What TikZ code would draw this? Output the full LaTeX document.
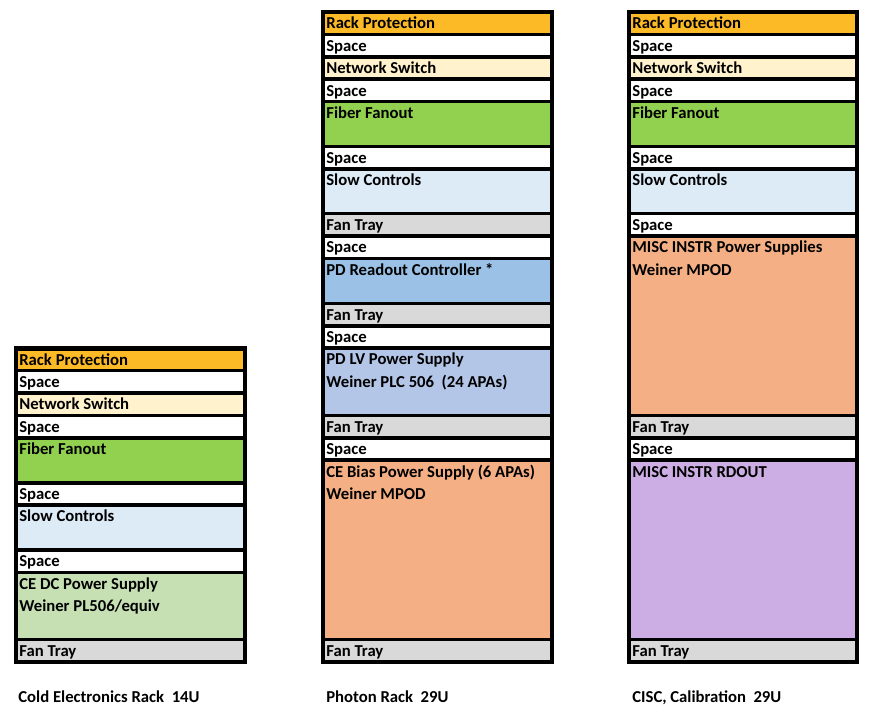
\documentclass[tikz,border=0pt]{standalone}
\usepackage{fontspec}
\setmainfont{Carlito}
\usetikzlibrary{positioning}
\definecolor{rackprot}{HTML}{FDBA27}
\definecolor{netsw}{HTML}{FFF2CC}
\definecolor{fiber}{HTML}{92D050}
\definecolor{slowctl}{HTML}{DDEBF7}
\definecolor{fantray}{HTML}{D9D9D9}
\definecolor{pdrdout}{HTML}{9BC2E6}
\definecolor{pdlv}{HTML}{B4C6E7}
\definecolor{cebias}{HTML}{F4B084}
\definecolor{cedc}{HTML}{C6E0B4}
\definecolor{miscrd}{HTML}{CDAEE4}
\tikzset{unitbox/.style={draw=black, line width=2pt},rackframe/.style={draw=black, line width=2.5pt}}
\tikzset{celllabel/.style={anchor=north west, inner sep=0pt, align=left, font=\bfseries\fontsize{9.5}{12.9}\selectfont}}
\tikzset{racktitle/.style={anchor=base west, inner sep=0pt, font=\bfseries\fontsize{9.5}{11}\selectfont}}
\def\U{22.41}
\begin{document}
\begin{tikzpicture}[x=0.02cm, y=-0.02cm]
  \useasboundingbox (0,0) rectangle (873,711);
  % cold electronics rack
  \begin{scope}[shift={(16,348.3)}]
    \foreach \r/\n/\col/\txt in {0/1/rackprot/Rack Protection, 1/1/white/Space, 2/1/netsw/Network Switch,
      3/1/white/Space, 4/2/fiber/Fiber Fanout, 6/1/white/Space, 7/2/slowctl/Slow Controls, 9/1/white/Space,
      10/3/cedc/{CE DC Power Supply\\Weiner PL506/equiv}, 13/1/fantray/Fan Tray}
    {
      \draw[unitbox, fill=\col] (0,\r*\U) rectangle (229,{(\r+\n)*\U});
      \node[celllabel] (ce-\r) at (3,{\r*\U+0.6}) {\strut\txt};
    }
    \draw[rackframe] (0,0) rectangle (229,14*\U);
  \end{scope}
  % photon rack
  \begin{scope}[shift={(323,12)}]
    \foreach \r/\n/\col/\txt in {0/1/rackprot/Rack Protection, 1/1/white/Space, 2/1/netsw/Network Switch,
      3/1/white/Space, 4/2/fiber/Fiber Fanout, 6/1/white/Space, 7/2/slowctl/Slow Controls, 9/1/fantray/Fan Tray,
      10/1/white/Space, 11/2/pdrdout/PD Readout Controller *, 13/1/fantray/Fan Tray, 14/1/white/Space,
      15/3/pdlv/{PD LV Power Supply\\Weiner PLC 506\ \ (24 APAs)}, 18/1/fantray/Fan Tray, 19/1/white/Space,
      20/8/cebias/{CE Bias Power Supply (6 APAs)\\Weiner MPOD}, 28/1/fantray/Fan Tray}
    {
      \draw[unitbox, fill=\col] (0,\r*\U) rectangle (229,{(\r+\n)*\U});
      \node[celllabel] (ph-\r) at (3,{\r*\U+0.6}) {\strut\txt};
    }
    \draw[rackframe] (0,0) rectangle (229,29*\U);
  \end{scope}
  % cisc / calibration rack
  \begin{scope}[shift={(629,12)}]
    \foreach \r/\n/\col/\txt in {0/1/rackprot/Rack Protection, 1/1/white/Space, 2/1/netsw/Network Switch,
      3/1/white/Space, 4/2/fiber/Fiber Fanout, 6/1/white/Space, 7/2/slowctl/Slow Controls, 9/1/white/Space,
      10/8/cebias/{MISC INSTR Power Supplies\\Weiner MPOD}, 18/1/fantray/Fan Tray, 19/1/white/Space,
      20/8/miscrd/MISC INSTR RDOUT, 28/1/fantray/Fan Tray}
    {
      \draw[unitbox, fill=\col] (0,\r*\U) rectangle (228,{(\r+\n)*\U});
      \node[celllabel] (ci-\r) at (3,{\r*\U+0.6}) {\strut\txt};
    }
    \draw[rackframe] (0,0) rectangle (228,29*\U);
  \end{scope}
  \node[racktitle] (ce-title) at (18,702) {Cold Electronics Rack\ \ 14U};
  \node[racktitle] (ph-title) at (326,702) {Photon Rack\ \ 29U};
  \node[racktitle] (ci-title) at (632,702) {CISC, Calibration\ \ 29U};
\end{tikzpicture}
\end{document}
